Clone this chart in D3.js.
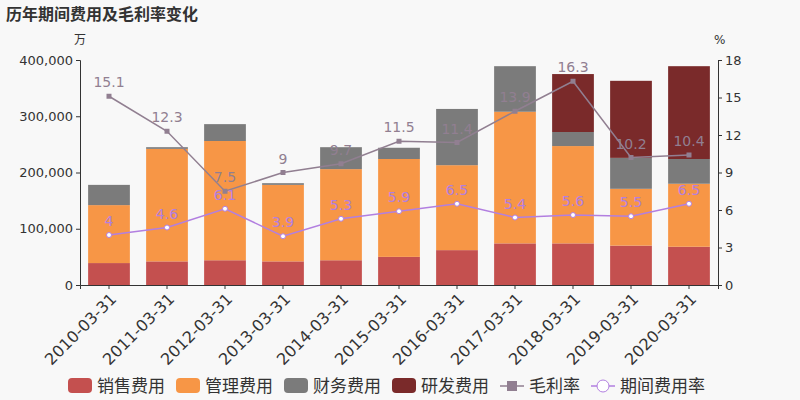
<!DOCTYPE html><html><head><meta charset="utf-8">
<script src="https://cdn.jsdelivr.net/npm/d3@7"></script>
<style>body{margin:0;background:#f8f8f8;font-family:"DejaVu Sans","Noto Sans CJK SC",sans-serif}</style></head><body>
<svg id="c" width="800" height="400"></svg>
<script>
const categories=["2010-03-31","2011-03-31","2012-03-31","2013-03-31","2014-03-31","2015-03-31","2016-03-31","2017-03-31","2018-03-31","2019-03-31","2020-03-31"];
const sales=[39000,42000,44000,42000,44000,50000,62000,74000,74000,70000,68000];
const mgmt=[103000,200000,212000,136000,162000,174000,151000,234000,173000,101000,112000];
const finance=[36000,3000,30000,3000,39000,20000,100000,81000,25000,55000,44000];
const rnd=[0,0,0,0,0,0,0,0,103000,137000,165000];
const grossMargin=[15.1,12.3,7.5,9,9.7,11.5,11.4,13.9,16.3,10.2,10.4];
const periodRate=[4,4.6,6.1,3.9,5.3,5.9,6.5,5.4,5.6,5.5,6.5];
const leftTicks=[0,100000,200000,300000,400000];
const rightTicks=[0,3,6,9,12,15,18];
const seriesNames=["销售费用","管理费用","财务费用","研发费用"];
const colors=["#c4504f","#f79646","#7b7b7b","#7a2a2a"];
const gmColor="#917f91",prColor="#b27fe0";

const svg=d3.select("#c");
const L=80,R=718,T=60,B=285;
const x=d3.scaleBand().domain(categories).range([L,R]).paddingInner(0.28).paddingOuter(0.14);
const y=d3.scaleLinear().domain([0,400000]).range([B,T]);
const y2=d3.scaleLinear().domain([0,18]).range([B,T]);

svg.append("text").attr("x",6).attr("y",20).attr("font-size",16).attr("font-weight","bold").attr("fill","#333").text("历年期间费用及毛利率变化");
svg.append("text").attr("x",74).attr("y",44).attr("font-size",12).attr("fill","#333").text("万");
svg.append("text").attr("x",714).attr("y",44).attr("font-size",12).attr("fill","#333").text("%");

const ga=svg.append("g").attr("transform",`translate(${L},0)`).call(d3.axisLeft(y).tickValues(leftTicks).tickFormat(d3.format(",")).tickSize(4));
const gb=svg.append("g").attr("transform",`translate(${R},0)`).call(d3.axisRight(y2).tickValues(rightTicks).tickSize(4));
[ga,gb].forEach(g=>{g.selectAll("text").attr("font-size",13).attr("font-family","DejaVu Sans").attr("fill","#333");g.selectAll("line,path").attr("stroke","#333");});
const gx=svg.append("g").attr("transform",`translate(0,${B})`).call(d3.axisBottom(x).tickSize(4));
gx.selectAll("line,path").attr("stroke","#333");
gx.selectAll("text").attr("font-size",16).attr("font-family","DejaVu Sans").attr("fill","#333").attr("text-anchor","end").attr("dx","-0.3em").attr("dy","0.6em").attr("transform","rotate(-45)");

const stackData=categories.map((c,i)=>({c,s0:sales[i],s1:mgmt[i],s2:finance[i],s3:rnd[i]}));
const stack=d3.stack().keys(["s0","s1","s2","s3"])(stackData);
stack.forEach((layer,k)=>{
  svg.append("g").selectAll("rect").data(layer).join("rect")
   .attr("x",d=>x(d.data.c)).attr("width",x.bandwidth())
   .attr("y",d=>y(d[1])).attr("height",d=>y(d[0])-y(d[1])).attr("fill",colors[k]);
});

function line(vals,color,marker){
  const pts=vals.map((v,i)=>[x(categories[i])+x.bandwidth()/2,y2(v)]);
  svg.append("path").attr("d",d3.line()(pts)).attr("fill","none").attr("stroke",color).attr("stroke-width",1.5);
  pts.forEach(p=>{
    if(marker==="sq") svg.append("rect").attr("x",p[0]-2.5).attr("y",p[1]-2.5).attr("width",5).attr("height",5).attr("fill",color);
    else svg.append("circle").attr("cx",p[0]).attr("cy",p[1]).attr("r",2.5).attr("fill","#fff").attr("stroke",color);
  });
  pts.forEach((p,i)=>svg.append("text").attr("x",p[0]).attr("y",p[1]-9).attr("text-anchor","middle").attr("font-size",14).attr("fill",color).text(vals[i]));
}
line(grossMargin,gmColor,"sq");
line(periodRate,prColor,"c");

const leg=svg.append("g").attr("font-size",17).attr("fill","#333");
let lx=68;const ly=386;
seriesNames.forEach((n,i)=>{
  leg.append("rect").attr("x",lx).attr("y",ly-8).attr("width",24).attr("height",15).attr("rx",4).attr("fill",colors[i]);
  leg.append("text").attr("x",lx+29).attr("y",ly+6).text(n);
  lx+=29+n.length*17+11;
});
[["毛利率",gmColor,"sq"],["期间费用率",prColor,"c"]].forEach(([n,c,m])=>{
  leg.append("line").attr("x1",lx).attr("x2",lx+24).attr("y1",ly).attr("y2",ly).attr("stroke",c).attr("stroke-width",1.5);
  if(m==="sq") leg.append("rect").attr("x",lx+7).attr("y",ly-5).attr("width",10).attr("height",10).attr("fill",c);
  else leg.append("circle").attr("cx",lx+12).attr("cy",ly).attr("r",6).attr("fill","#fff").attr("stroke",c);
  leg.append("text").attr("x",lx+29).attr("y",ly+6).text(n);
  lx+=29+n.length*17+11;
});
</script></body></html>
